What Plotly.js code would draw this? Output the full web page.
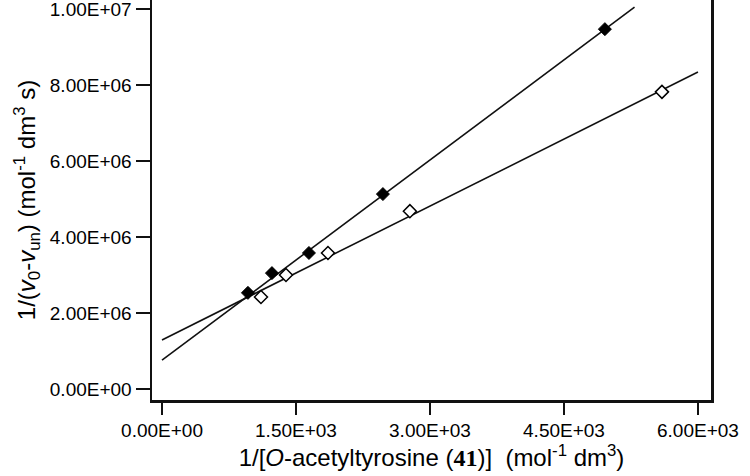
<!DOCTYPE html>
<html>
<head>
<meta charset="utf-8">
<script src="https://cdn.plot.ly/plotly-3.0.1.min.js"></script>
<style>html,body{margin:0;padding:0;background:#fff;}#chart{width:750px;height:476px;}</style>
</head>
<body>
<div id="chart"></div>
<script>
// Filled diamonds (upper, steeper series)
var filledX = [962, 1231, 1645, 2473, 4958];
var filledY = [2.53e6, 3.05e6, 3.58e6, 5.13e6, 9.47e6];
// Open diamonds
var openX = [1108, 1388, 1858, 2775, 5597];
var openY = [2.42e6, 3.00e6, 3.58e6, 4.68e6, 7.82e6];
// Fitted lines (end points)
var fitFilledX = [0, 5290];
var fitFilledY = [7.6e5, 1.005e7];
var fitOpenX = [0, 6000];
var fitOpenY = [1.29e6, 8.34e6];
// Ticks
var xTickVals = [0, 1500, 3000, 4500, 6000];
var xTickText = ["0.00E+00", "1.50E+03", "3.00E+03", "4.50E+03", "6.00E+03"];
var yTickVals = [0, 2e6, 4e6, 6e6, 8e6, 1e7];
var yTickText = ["0.00E+00", "2.00E+06", "4.00E+06", "6.00E+06", "8.00E+06", "1.00E+07"];

var FONT = "Liberation Sans";

var traces = [
  {x: fitFilledX, y: fitFilledY, mode: "lines", line: {color: "#111", width: 1.6}, showlegend: false, hoverinfo: "skip"},
  {x: fitOpenX, y: fitOpenY, mode: "lines", line: {color: "#111", width: 1.6}, showlegend: false, hoverinfo: "skip"},
  {x: filledX, y: filledY, mode: "markers", marker: {symbol: "diamond", size: 10, color: "#000", line: {color: "#000", width: 1}}, showlegend: false},
  {x: openX, y: openY, mode: "markers", marker: {symbol: "diamond", size: 10, color: "#fff", line: {color: "#000", width: 1.5}}, showlegend: false}
];

var layout = {
  width: 750, height: 476,
  margin: {l: 152, r: 39, t: 0, b: 76},
  paper_bgcolor: "#fff", plot_bgcolor: "#fff",
  font: {family: FONT, size: 19, color: "#000"},
  showlegend: false,
  xaxis: {
    range: [-112, 6146],
    tickmode: "array", tickvals: xTickVals, ticktext: xTickText,
    ticks: "outside", ticklen: 12, tickwidth: 1.5, tickcolor: "#111",
    showgrid: false, zeroline: false,
    showline: true, linecolor: "#111", linewidth: 2.5, mirror: false,
    ticklabeloverflow: "allow",
    tickfont: {family: FONT, size: 19, color: "#000"},
    title: {text: "1/[<i>O</i>-acetyltyrosine (<span style=\"font-family:'Liberation Serif'\"><b>41</b></span>)]\u00a0\u00a0(mol<sup>-1</sup> dm<sup>3</sup>)",
            font: {family: FONT, size: 24, color: "#000"}, standoff: 6}
  },
  yaxis: {
    range: [-2.89e5, 1.0237e7],
    tickmode: "array", tickvals: yTickVals, ticktext: yTickText,
    ticks: "outside", ticklen: 14, tickwidth: 1.5, tickcolor: "#111",
    showgrid: false, zeroline: false,
    showline: true, linecolor: "#111", linewidth: 2.5, mirror: true,
    ticklabeloverflow: "allow",
    tickfont: {family: FONT, size: 19, color: "#000"},
    title: {text: "1/(<i>v</i><sub>0</sub>-<i>v</i><sub>un</sub>) (mol<sup>-1</sup> dm<sup>3</sup> s)",
            font: {family: FONT, size: 24, color: "#000"}, standoff: 8}
  }
};

Plotly.newPlot("chart", traces, layout, {staticPlot: true, displayModeBar: false});
</script>
</body>
</html>
